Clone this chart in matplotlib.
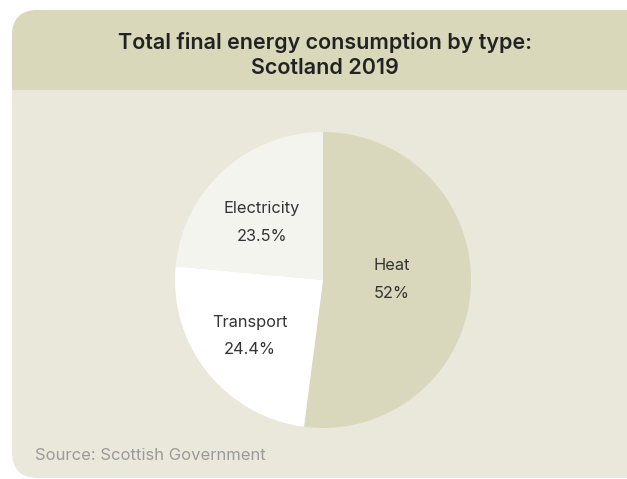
import matplotlib.pyplot as plt
from matplotlib.patches import FancyBboxPatch, Rectangle

plt.rcParams['font.family'] = ['Inter', 'DejaVu Sans']

labels = ['Heat', 'Transport', 'Electricity']
shares = [52, 24.4, 23.5]
share_text = ['52%', '24.4%', '23.5%']
colors = ['#d9d8bc', '#ffffff', '#f4f4ef']

W, H = 627, 479
fig = plt.figure(figsize=(W / 100, H / 100), dpi=100)
fig.patch.set_facecolor('white')

# background card in pixel coordinates
bg = fig.add_axes([0, 0, 1, 1])
bg.set_xlim(0, W)
bg.set_ylim(H, 0)
bg.axis('off')

card = FancyBboxPatch((12, 10), 640, 468, boxstyle='round,pad=0,rounding_size=26',
                      facecolor='#eae8da', edgecolor='none')
bg.add_patch(card)
head = FancyBboxPatch((12, 10), 640, 80, boxstyle='round,pad=0,rounding_size=26',
                      facecolor='#d9d8bb', edgecolor='none')
bg.add_patch(head)
bg.add_patch(Rectangle((12, 50), 640, 40, facecolor='#d9d8bb', edgecolor='none'))

tr = bg.transData
fig.text(325, 42, 'Total final energy consumption by type:', ha='center', va='center',
         fontsize=15.5, fontweight='semibold', color='#222222', transform=tr)
fig.text(325, 68, 'Scotland 2019', ha='center', va='center',
         fontsize=15.5, fontweight='semibold', color='#222222', transform=tr)
fig.text(35, 456, 'Source: Scottish Government', ha='left', va='center',
         fontsize=12, color='#9a9a9a', transform=tr)

# pie: centre ~ (323, 280), radius ~148 px
r = 148
ax = fig.add_axes([(323 - r) / W, (H - 280 - r) / H, 2 * r / W, 2 * r / H])
wedges, _ = ax.pie(shares, colors=colors, startangle=90, counterclock=False,
                   wedgeprops=dict(linewidth=0))
ax.set_xlim(-1, 1)
ax.set_ylim(-1, 1)
ax.set_aspect('equal')

label_pos = [(392, 265), (250, 322), (262, 208)]
for (x, y), name, pct in zip(label_pos, labels, share_text):
    fig.text(x, y, name, ha='center', va='center', fontsize=11.8, color='#333333', transform=tr)
    fig.text(x, y + 28, pct, ha='center', va='center', fontsize=11.8, color='#333333', transform=tr)

fig.savefig('out.png', dpi=100)
